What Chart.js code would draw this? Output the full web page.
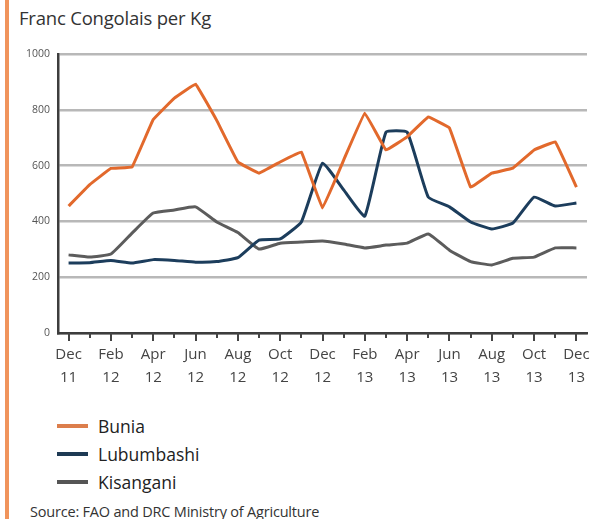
<!DOCTYPE html>
<html>
<head>
<meta charset="utf-8">
<script src="https://cdn.jsdelivr.net/npm/chart.js@4"></script>
<style>
  html, body { margin: 0; padding: 0; background: #fff; }
  body { width: 604px; height: 519px; position: relative; overflow: hidden; font-family: "Open Sans", sans-serif; }
  .edge { position: absolute; left: 5px; top: 0; width: 4px; height: 519px; background: #f0945c; }
  .title { position: absolute; left: 19px; top: 5px; font-size: 18.5px; color: #333; letter-spacing: -0.2px; }
  .wrap { position: absolute; left: 0; top: 0; width: 604px; height: 400px; }
  #legend { position: absolute; left: 57px; top: 412px; }
  .item { height: 28px; display: flex; align-items: center; font-size: 17.5px; color: #222; }
  .item span.sw { display: inline-block; width: 31px; height: 4px; margin-right: 10px; }
  .source { position: absolute; left: 30px; top: 502px; font-size: 14.5px; color: #333; letter-spacing: -0.2px; }
</style>
</head>
<body>
<div class="edge"></div>
<div class="title">Franc Congolais per Kg</div>
<div class="wrap"><canvas id="priceChart" width="604" height="400"></canvas></div>
<div id="legend"></div>
<div class="source">Source: FAO and DRC Ministry of Agriculture</div>
<script>
// 월별 가격 (Dec 2011 ~ Dec 2013)
const months = ['Dec 11','Jan 12','Feb 12','Mar 12','Apr 12','May 12','Jun 12','Jul 12','Aug 12','Sep 12','Oct 12','Nov 12',
                'Dec 12','Jan 13','Feb 13','Mar 13','Apr 13','May 13','Jun 13','Jul 13','Aug 13','Sep 13','Oct 13','Nov 13','Dec 13'];
const bunia      = [455, 532, 590, 595, 765, 842, 892, 762, 613, 573, 613, 649, 448, 620, 788, 656, 703, 774, 735, 523, 573, 591, 656, 685, 523];
const lubumbashi = [251, 252, 260, 251, 263, 260, 254, 256, 270, 333, 337, 398, 609, 513, 419, 720, 720, 487, 452, 398, 373, 394, 487, 455, 466];
const kisangani  = [280, 272, 283, 358, 430, 441, 452, 398, 360, 301, 322, 326, 330, 319, 305, 315, 322, 355, 297, 256, 244, 268, 272, 305, 305];
const yTicks = [0, 200, 400, 600, 800, 1000];

const seriesNames = ['Bunia', 'Lubumbashi', 'Kisangani'];
const seriesColors = ['#e2692c', '#1c3d5c', '#5c5c5c'];
const legendColors = ['#dc7e4c', '#1e3a54', '#555555'];

// 눈금: 짝수 달은 길게, 홀수 달은 짧게
const monthTicks = {
  id: 'monthTicks',
  afterDraw(chart) {
    const x = chart.scales.x;
    const ctx = chart.ctx;
    const bottom = chart.chartArea.bottom;
    ctx.save();
    ctx.strokeStyle = '#444';
    ctx.lineWidth = 2;
    months.forEach((m, i) => {
      const px = Math.round(x.getPixelForValue(i));
      ctx.beginPath();
      ctx.moveTo(px, bottom);
      ctx.lineTo(px, bottom + (i % 2 === 0 ? 8 : 5));
      ctx.stroke();
    });
    ctx.restore();
  }
};

const ctx = document.getElementById('priceChart').getContext('2d');
const chart = new Chart(ctx, {
  type: 'line',
  data: {
    labels: months,
    datasets: [bunia, lubumbashi, kisangani].map((d, i) => ({
      label: seriesNames[i],
      data: d,
      borderColor: seriesColors[i],
      borderWidth: 3,
      pointRadius: 0,
      tension: i === 0 ? 0.05 : 0.12,
      fill: false
    }))
  },
  options: {
    responsive: false,
    animation: false,
    layout: { padding: { left: 0, top: 54, right: 17, bottom: 7 } },
    plugins: { legend: { display: false }, tooltip: { enabled: false } },
    scales: {
      x: {
        offset: true,
        grid: { display: true, drawOnChartArea: false, drawTicks: false },
        border: { color: '#3d3d3d', width: 2.5 },
        afterFit(scale) { scale.height = 60; },
        ticks: {
          autoSkip: false,
          maxRotation: 0,
          padding: 10,
          color: '#444',
          font: { family: 'Open Sans', size: 15, lineHeight: 1.55 },
          callback(v, i) { return i % 2 === 0 ? months[i].split(' ') : ''; }
        }
      },
      y: {
        min: 0,
        max: 1000,
        afterFit(scale) { scale.width = 58; },
        afterBuildTicks(scale) { scale.ticks = yTicks.map(v => ({ value: v })); },
        grid: { color: '#b8b8b8', lineWidth: 2.5, drawTicks: false },
        border: { color: '#3d3d3d', width: 2.5 },
        ticks: {
          padding: 8,
          color: '#555',
          font: { family: 'Open Sans', size: 10.5 },
          callback(v) { return String(v); }
        }
      }
    }
  },
  plugins: [monthTicks]
});

// 범례
const legend = document.getElementById('legend');
seriesNames.forEach((name, i) => {
  const row = document.createElement('div');
  row.className = 'item';
  row.innerHTML = '<span class="sw" style="background:' + legendColors[i] + '"></span>' + name;
  legend.appendChild(row);
});
</script>
</body>
</html>
